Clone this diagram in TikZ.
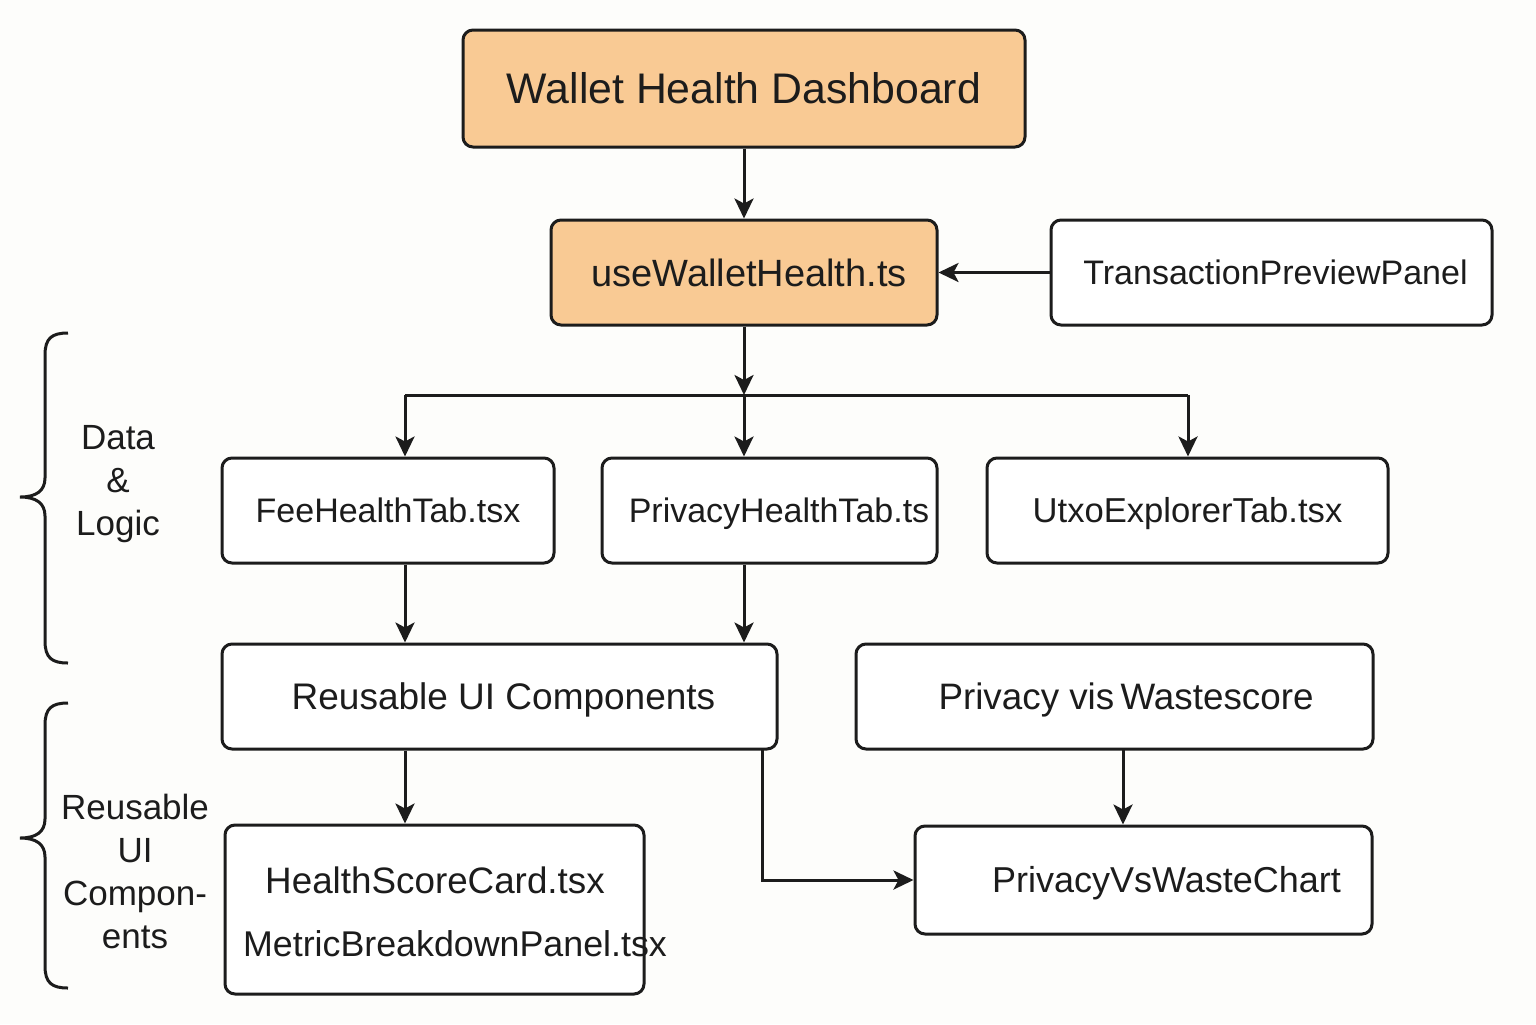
\documentclass[tikz,border=0pt]{standalone}
\usepackage{fontspec}
\setmainfont{Liberation Sans}
\usetikzlibrary{arrows.meta,calc}
\definecolor{bgc}{HTML}{FDFDFB}
\definecolor{orng}{HTML}{F9CA94}
\definecolor{ink}{HTML}{1C1C1C}
\tikzset{
  box/.style={draw=ink, line width=1.5pt, rounded corners=5pt, fill=white, inner sep=0pt, align=center, text=ink},
  hot/.style={box, fill=orng},
  fs/.style={font=\fontsize{#1}{#1}\selectfont, text height={0.72*#1pt}, text depth=0pt},
  arr/.style={draw=ink, line width=1.5pt, -{Stealth[length=10pt,width=9.5pt,inset=2.5pt]}},
  ln/.style={draw=ink, line width=1.5pt},
  brace/.style={draw=ink, line width=1.5pt},
  lbl/.style={align=center, text=ink, inner sep=0pt, font=\fontsize{17.5}{21.5}\selectfont}
}
\begin{document}
\begin{tikzpicture}[x=0.5pt,y=-0.5pt]
\fill[bgc] (0,0) rectangle (1536,1024);
\useasboundingbox (0,0) rectangle (1536,1024);

% boxes
\node[hot, minimum width=281pt, minimum height=58.5pt, fs=21.4] (dash) at (744,88.5) {Wallet Health Dashboard};
\node[hot, minimum width=193pt, minimum height=52.5pt, fs=19] (hook) at (744,272.5) {\hspace*{5pt}useWalletHealth.ts};
\node[box, minimum width=220.5pt, minimum height=52.5pt, fs=17] (tpp) at (1271.5,272.5) {\hspace*{4pt}TransactionPreviewPanel};
\node[box, minimum width=166pt, minimum height=52.5pt, fs=17] (fee) at (388,510.5) {FeeHealthTab.tsx};
\node[box, minimum width=167.5pt, minimum height=52.5pt, fs=17] (priv) at (769.5,510.5) {\hspace*{9.5pt}PrivacyHealthTab.ts};
\node[box, minimum width=200.5pt, minimum height=52.5pt, fs=17.3] (utxo) at (1187.5,510.5) {UtxoExplorerTab.tsx};
\node[box, minimum width=277.5pt, minimum height=52.5pt, fs=18.5] (reuse) at (499.5,696.5) {\hspace*{4pt}Reusable UI Components};
\node[box, minimum width=258.5pt, minimum height=52.5pt, fs=18.4] (pvw) at (1114.5,696.5) {\hspace*{11.5pt}Privacy vis\hspace{-2pt} Wastescore};
\node[box, minimum width=209.5pt, minimum height=84.5pt] (hsc) at (434.5,909.5) {};
\node[box, minimum width=228.5pt, minimum height=54pt, fs=18] (chart) at (1143.5,880) {\hspace*{23pt}PrivacyVsWasteChart};
\node[lbl, font=\fontsize{18.4}{21}\selectfont] (hsct) at (435,880) {HealthScoreCard.tsx};
\node[lbl, font=\fontsize{17.9}{21}\selectfont] (mbp) at (455,944) {MetricBreakdownPanel.tsx};

% side labels
\node[lbl] (dl) at (118,484) {Data\\\&\\Logic};
\node[lbl] (rl) at (135,871.5) {Reusable\\UI\\Compon-\\ents};

% helper coordinates
\coordinate (bus) at (744,395);
\coordinate (busL) at (405,395);
\coordinate (busR) at (1188,395);
\coordinate (elb) at (762,749);
\coordinate (pvx) at (1123,749);

% connectors
\draw[arr] (dash.south) -- (hook.north);
\draw[arr] (tpp.west) -- (hook.east);
\draw[ln] (busL) -- (busR);
\draw[arr] (hook.south) -- (bus);
\draw[arr] (busL) -- (busL |- fee.north);
\draw[arr] (bus) -- (bus |- priv.north);
\draw[arr] (busR) -- (busR |- utxo.north);
\draw[arr] (fee.south -| busL) -- (reuse.north -| busL);
\draw[arr] (priv.south -| bus) -- (reuse.north -| bus);
\draw[arr] (reuse.south -| busL) -- (hsc.north -| busL);
\draw[arr] (elb) |- (chart.west);
\draw[arr] (pvx) -- (chart.north -| pvx);

% braces
\draw[brace] (68,333) .. controls (52,333) and (45,338) .. (45,355) -- (45,478)
  .. controls (45,491) and (36,497) .. (20,497)
  .. controls (36,497) and (45,503) .. (45,516) -- (45,641)
  .. controls (45,658) and (52,663) .. (68,663);
\draw[brace] (68,703) .. controls (52,703) and (45,708) .. (45,725) -- (45,819)
  .. controls (45,832) and (36,838) .. (20,838)
  .. controls (36,838) and (45,844) .. (45,857) -- (45,966)
  .. controls (45,983) and (52,988) .. (68,988);
\end{tikzpicture}
\end{document}
